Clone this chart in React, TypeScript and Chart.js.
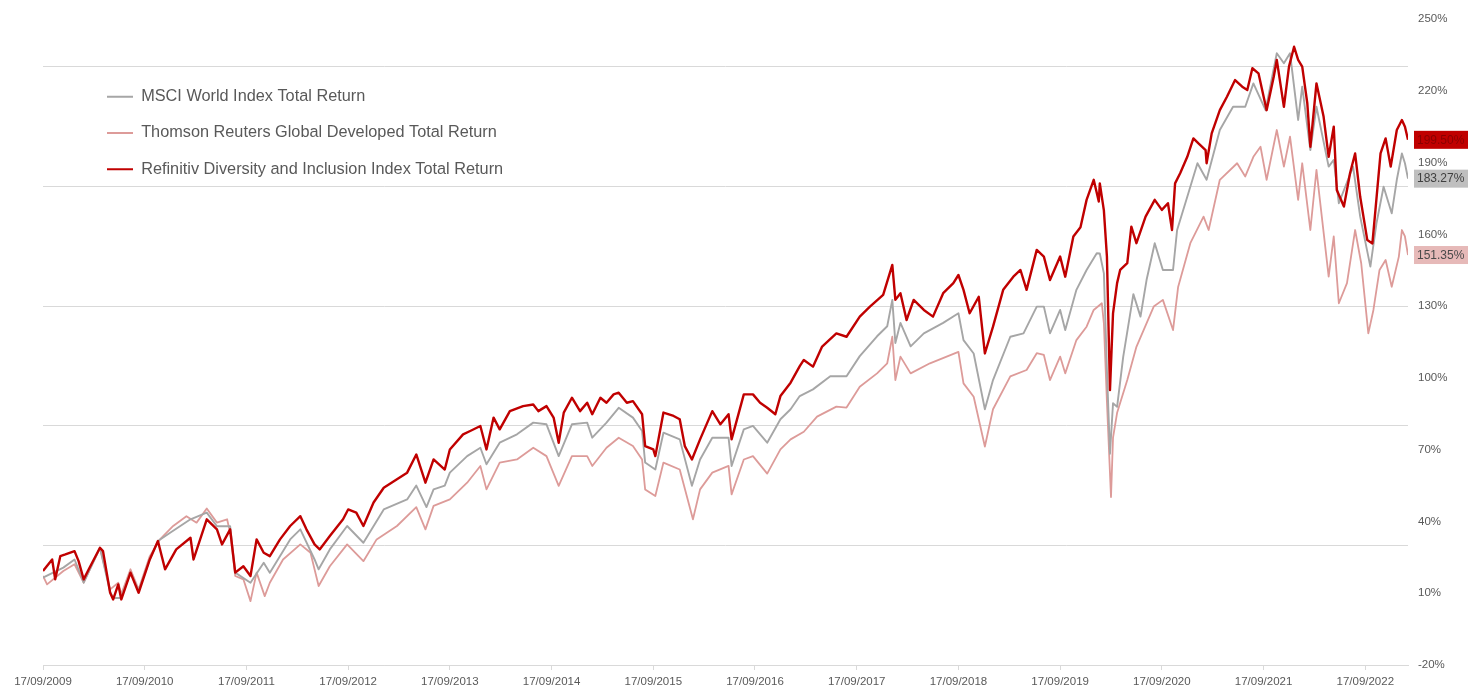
import React, { useEffect, useRef } from 'react';
import { Chart, registerables } from 'chart.js';

Chart.register(...registerables);

// Time axis: years elapsed since 17/09/2009
const xTickLabels = [
  '17/09/2009', '17/09/2010', '17/09/2011', '17/09/2012', '17/09/2013', '17/09/2014', '17/09/2015',
  '17/09/2016', '17/09/2017', '17/09/2018', '17/09/2019', '17/09/2020', '17/09/2021', '17/09/2022',
];
const xEnd = 13.42;

const yMin = -20;
const yMax = 250;
const yStep = 30;
const gridValues = [-20, 30, 80, 130, 180, 230];

const seriesNames = [
  'MSCI World Index Total Return',
  'Thomson Reuters Global Developed Total Return',
  'Refinitiv Diversity and Inclusion Index Total Return',
];

const msciT = [0.00,0.20,0.31,0.40,0.56,0.66,0.69,0.77,0.86,0.94,1.05,1.13,1.25,1.45,1.61,1.71,1.84,1.89,2.04,2.17,2.23,2.43,2.53,2.67,2.71,2.82,2.99,3.15,3.35,3.58,3.67,3.77,3.84,3.95,4.00,4.17,4.30,4.36,4.49,4.66,4.82,4.95,5.07,5.20,5.35,5.40,5.54,5.66,5.80,5.89,5.92,6.02,6.10,6.26,6.38,6.46,6.58,6.74,6.77,6.89,6.98,7.12,7.25,7.35,7.44,7.57,7.74,7.90,8.03,8.20,8.30,8.35,8.38,8.43,8.53,8.66,8.85,9.00,9.05,9.15,9.26,9.34,9.51,9.64,9.77,9.84,9.90,10.00,10.05,10.16,10.26,10.36,10.39,10.43,10.46,10.49,10.52,10.56,10.62,10.72,10.79,10.85,10.93,11.01,11.11,11.15,11.25,11.35,11.44,11.57,11.70,11.82,11.90,12.02,12.13,12.20,12.26,12.34,12.38,12.46,12.52,12.64,12.69,12.74,12.88,12.95,13.05,13.11,13.18,13.26,13.31,13.36,13.39,13.42];
const msciV = [16.5,20.7,24.1,14.4,29,10.5,8,8,18.6,11,24.1,31.8,35.3,40.9,43.7,38,38,18.6,14.4,22.7,18.6,32.5,36.7,24.1,20,28.3,38.1,31.1,45,49.2,55,46,53.4,55,60.4,67.3,70.8,63.9,72.9,76.4,81.3,80.6,67.3,80.6,81.3,75,81.3,87.5,83.4,77.8,64.6,61.7,77.1,74.3,54.9,65.9,75,75,63.2,78.5,79.9,72.9,82.7,86.9,92.4,95.2,100.7,100.7,109.1,117.4,121.6,132.6,114.6,123,113.2,118.6,123,127,115.8,110.2,86.9,99.1,117.2,118.6,129.8,129.8,118.6,128.4,120,136.8,145.1,152.1,152,143.7,103.3,68.3,89.4,87.9,108.8,135,125.6,141,156.3,145.1,145.1,161.8,175.7,189.7,182.8,203.6,213.3,213.3,223.1,211.9,235.7,231.5,235.7,207.8,221.7,195.2,213.3,188.3,191.1,173,188.3,167.4,146.5,164.6,179.9,168.8,182.8,193.8,189.7,183.27];

const thomsonT = [0.00,0.04,0.20,0.31,0.40,0.56,0.66,0.74,0.77,0.86,0.94,1.05,1.15,1.28,1.41,1.51,1.61,1.71,1.81,1.84,1.89,1.97,2.04,2.10,2.18,2.23,2.36,2.53,2.63,2.71,2.82,2.99,3.15,3.28,3.48,3.67,3.76,3.84,4.00,4.17,4.30,4.36,4.49,4.66,4.82,4.95,5.07,5.20,5.35,5.40,5.54,5.66,5.80,5.89,5.92,6.02,6.10,6.26,6.39,6.46,6.58,6.74,6.77,6.89,6.98,7.12,7.25,7.35,7.48,7.61,7.80,7.90,8.03,8.20,8.30,8.35,8.38,8.43,8.53,8.72,9.00,9.05,9.15,9.26,9.34,9.51,9.67,9.77,9.84,9.90,10.00,10.05,10.16,10.26,10.33,10.41,10.43,10.46,10.50,10.52,10.56,10.66,10.75,10.92,11.01,11.11,11.16,11.28,11.41,11.46,11.57,11.74,11.82,11.90,11.97,12.03,12.13,12.20,12.26,12.34,12.38,12.46,12.52,12.64,12.69,12.74,12.82,12.90,12.96,13.03,13.08,13.14,13.20,13.26,13.33,13.36,13.39,13.42];
const thomsonV = [17.2,13.7,19.3,22.1,14.4,29,11.6,14.4,9.6,20,11.6,25.5,32.5,38.1,42.2,39.5,45.4,39.5,40.9,35.3,17.2,15.8,6.7,18.6,8.8,14.4,24.1,30.4,26.9,13,21.3,30.4,23.4,32.5,38.1,46,36.7,46.5,49.2,56.2,63.2,53.4,64.6,65.9,70.8,67.3,54.9,67.3,67.3,63.2,70.8,75,71.5,65.9,53.4,50.6,64.6,61.7,40.9,53.4,60.4,63.2,51.3,65.9,67.3,60,70.1,74.3,77.5,83.8,88,87.6,96.3,101.9,106.1,117.2,99.1,108.9,101.9,106.1,110.9,97.7,92.1,71.3,86.9,100.6,103.3,110.3,109.6,99.1,108.9,101.9,115.8,121.4,128.4,131.2,122.8,90,50.2,75,85.4,99.1,113,129.8,132.6,120,138,156.3,167.4,161.8,182.8,189.7,184.2,192.4,196.6,182.8,203.6,188.3,200.8,174.4,189.7,161.8,186.9,142.3,159.1,131.2,139.6,161.8,147.9,118.6,128.4,145.1,149.3,138.1,150.7,161.8,159.1,151.35];

const refinitivT = [0.00,0.09,0.12,0.17,0.22,0.31,0.35,0.40,0.45,0.56,0.59,0.66,0.69,0.74,0.77,0.86,0.94,1.05,1.13,1.20,1.31,1.45,1.48,1.61,1.71,1.76,1.84,1.89,1.97,2.04,2.10,2.17,2.23,2.33,2.43,2.53,2.59,2.67,2.72,2.82,2.95,3.00,3.08,3.15,3.25,3.35,3.48,3.58,3.67,3.76,3.84,3.95,4.00,4.13,4.20,4.30,4.36,4.43,4.49,4.59,4.72,4.82,4.87,4.95,5.02,5.07,5.12,5.20,5.28,5.35,5.40,5.48,5.54,5.61,5.66,5.74,5.80,5.89,5.92,6.00,6.02,6.10,6.20,6.26,6.31,6.38,6.46,6.58,6.66,6.74,6.77,6.89,6.98,7.05,7.12,7.20,7.25,7.35,7.44,7.48,7.57,7.66,7.80,7.90,8.03,8.13,8.26,8.35,8.38,8.43,8.49,8.56,8.66,8.75,8.85,8.95,9.00,9.05,9.11,9.20,9.26,9.34,9.44,9.54,9.61,9.67,9.77,9.84,9.90,10.00,10.05,10.13,10.20,10.26,10.33,10.38,10.39,10.43,10.46,10.49,10.52,10.56,10.59,10.66,10.70,10.75,10.84,10.93,11.00,11.06,11.10,11.13,11.18,11.25,11.31,11.36,11.43,11.44,11.49,11.57,11.64,11.72,11.79,11.84,11.89,11.95,12.03,12.10,12.13,12.20,12.25,12.30,12.34,12.38,12.43,12.46,12.52,12.59,12.64,12.69,12.72,12.79,12.85,12.90,12.95,13.02,13.07,13.10,13.15,13.20,13.25,13.31,13.36,13.39,13.42];
const refinitivV = [19.3,24.1,15.8,25.5,26.2,27.6,23.4,15.8,20,29,27.6,10.2,7.4,13.7,7.4,18.6,10.2,24.1,31.8,20,28.3,33.2,24.1,40.9,36.7,30.4,36.7,18.6,21.3,17.2,32.5,26.9,25.5,32.5,38.1,42.2,36.7,30.4,28.3,33.9,40.9,45,43.7,38.1,47.9,54.1,57.6,60.4,68,56.2,65.9,61.7,70.1,76.4,77.8,79.9,70.1,83.4,78.5,86.1,88.2,88.9,86.1,88.2,83.4,72.9,85.5,91.7,86.1,89.6,84.8,91.7,89.6,93.1,93.8,89.6,90.3,84.8,71.5,70.1,67.3,85.5,84.1,82.7,71.5,65.9,74.3,86.1,80.6,84.8,74.3,93.1,93.1,89.6,87.5,84.8,92.4,98,104.9,107.5,104.7,113.1,118.6,117.2,125.6,129.8,134.7,147.2,132.6,135.4,124.2,132.6,128.4,125.6,135.4,139.6,143,136.8,127,133.9,110.2,121.4,136.8,142.3,145.1,136.8,153.5,150.7,140.9,150.7,142.3,159.1,163,174.4,182.8,173.7,181.3,170,150.7,94.9,127,139.6,145.1,148,163.2,156.3,167.4,174.4,170.2,173,161.8,181.3,185.5,192.4,200.1,198,195.2,189.7,202.2,211.9,217.5,224.5,221.7,220.3,229.4,227.3,211.9,225.9,232.9,213.3,230.1,238.4,232.9,230.1,214.8,196.6,223.1,209.2,192.4,205,178.5,171.6,185.5,193.8,175.7,157.6,156.2,170.2,193.8,200.1,188.3,203.6,207.8,205,199.5];

const lineColors = ['#a6a6a6', '#dd9b99', '#c00000'];
const lineWidths = [1.9, 1.8, 2.4];
const endBoxColors = ['#bfbfbf', '#e6b9b8', '#c00000'];
const endTextColors = ['#3f3f3f', '#4a4a4a', '#8a0000'];

const FONT = '"Liberation Sans", Arial, sans-serif';
const TEXT = '#595959';

const zip = (t: number[], v: number[]) => {
  const n = Math.min(t.length, v.length);
  const out: { x: number; y: number }[] = [];
  for (let i = 0; i < n; i++) out.push({ x: t[i], y: v[i] });
  return out;
};

const legendPlacer = {
  id: 'legendPlacer',
  beforeDraw(chart: any) {
    const lg = chart.legend;
    if (!lg) return;
    lg.left = 87;
    lg.top = 68.5;
    lg.right = lg.left + 600;
    lg.bottom = lg.top + 400;
  },
};

const endLabels = {
  id: 'endLabels',
  afterDraw(chart: any) {
    const { ctx, chartArea, scales } = chart;
    const ys = scales.y;
    chart.data.datasets.forEach((ds: any, i: number) => {
      const last = ds.data[ds.data.length - 1];
      const py = ys.getPixelForValue(last.y);
      const bx = chartArea.right + 6;
      ctx.save();
      ctx.fillStyle = endBoxColors[i];
      ctx.fillRect(bx, py - 9, 54, 18);
      ctx.font = `12px ${FONT}`;
      ctx.fillStyle = endTextColors[i];
      ctx.textAlign = 'left';
      ctx.textBaseline = 'middle';
      ctx.fillText(`${last.y.toFixed(2)}%`, bx + 3, py + 0.5);
      ctx.restore();
    });
  },
};

export default function App() {
  const ref = useRef<HTMLCanvasElement | null>(null);

  useEffect(() => {
    if (!ref.current) return;
    const series = [zip(msciT, msciV), zip(thomsonT, thomsonV), zip(refinitivT, refinitivV)];
    const orders = [1, 2, 0];
    const chart = new Chart(ref.current, {
      type: 'line',
      data: {
        datasets: series.map((d, i) => ({
          label: seriesNames[i],
          data: d,
          borderColor: lineColors[i],
          backgroundColor: lineColors[i],
          borderWidth: lineWidths[i],
          borderJoinStyle: 'round',
          pointRadius: 0,
          tension: 0,
          order: orders[i],
          yAxisID: 'y',
        })),
      },
      options: {
        animation: false,
        responsive: true,
        maintainAspectRatio: false,
        events: [],
        layout: { padding: { top: 19, left: 43, right: 0, bottom: 0 } },
        plugins: {
          tooltip: { enabled: false },
          legend: {
            position: 'chartArea',
            align: 'start',
            labels: {
              boxWidth: 26,
              boxHeight: 2,
              padding: 20,
              color: TEXT,
              font: { family: FONT, size: 16.3 },
              sort: (a: any, b: any) => a.datasetIndex - b.datasetIndex,
              generateLabels: (chart: any) =>
                Chart.defaults.plugins.legend.labels.generateLabels(chart).map((l: any) => ({
                  ...l,
                  fillStyle: lineColors[l.datasetIndex],
                  lineWidth: 0,
                })),
            },
          },
        },
        scales: {
          x: {
            type: 'linear',
            min: 0,
            max: xEnd,
            afterBuildTicks: (s: any) => {
              s.ticks = xTickLabels.map((_, i) => ({ value: i }));
            },
            afterFit: (s: any) => {
              s.height = 31;
            },
            ticks: {
              autoSkip: false,
              maxRotation: 0,
              padding: 5,
              color: TEXT,
              font: { family: FONT, size: 11.5 },
              callback: (v: any) => xTickLabels[Math.round(Number(v))] ?? '',
            },
            grid: { display: true, drawOnChartArea: false, drawTicks: true, tickLength: 5, color: '#d9d9d9' },
            border: { display: true, color: '#d9d9d9' },
          },
          y: {
            position: 'right',
            min: yMin,
            max: yMax,
            afterFit: (s: any) => {
              s.width = 74;
            },
            ticks: {
              stepSize: yStep,
              padding: 10,
              color: TEXT,
              font: { family: FONT, size: 11.5 },
              callback: (v: any) => `${v}%`,
            },
            grid: { display: false, drawTicks: false },
            border: { display: false },
          },
          yGrid: {
            position: 'left',
            min: yMin,
            max: yMax,
            afterBuildTicks: (s: any) => {
              s.ticks = gridValues.map((v) => ({ value: v }));
            },
            ticks: { display: false },
            grid: { color: '#d9d9d9', drawTicks: false, lineWidth: 1 },
            border: { display: false },
          },
        },
      },
      plugins: [legendPlacer, endLabels],
    } as any);
    return () => chart.destroy();
  }, []);

  return (
    <div style={{ position: 'absolute', left: 0, top: 0, width: 1482, height: 696, background: '#fff' }}>
      <canvas ref={ref} />
    </div>
  );
}
